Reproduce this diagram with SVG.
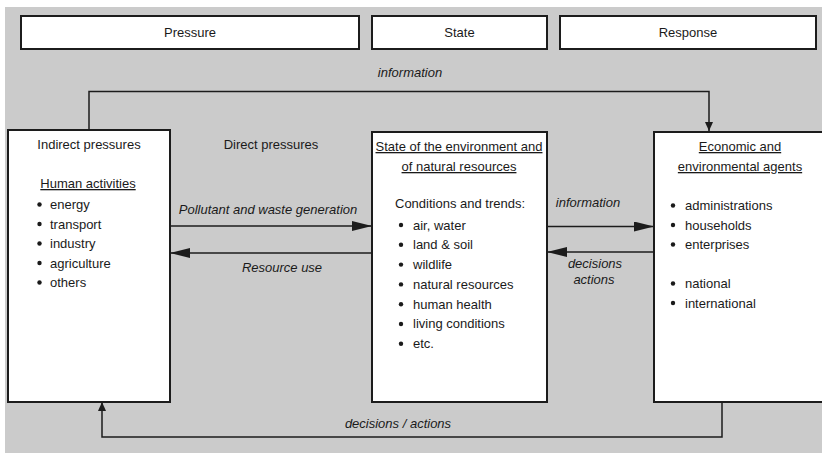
<svg xmlns="http://www.w3.org/2000/svg" width="822" height="453" viewBox="0 0 822 453">
<style>
.bg{fill:#cbcbcb}
.box{fill:#fff;stroke:#1c1c1c;stroke-width:2}
.t{font-family:"Liberation Sans",Arial,sans-serif;font-size:13px;fill:#1a1a1a}
.c{text-anchor:middle}
.i{font-style:italic}
.u{text-decoration:underline}
.conn{fill:none;stroke:#1c1c1c;stroke-width:1.5}
.dot{fill:#1a1a1a}
</style>
<defs>
<marker id="big" markerUnits="userSpaceOnUse" markerWidth="20" markerHeight="10" refX="20" refY="5" orient="auto">
<path d="M0,0 L20,5 L0,10 z" fill="#1c1c1c"/>
</marker>
<marker id="small" markerUnits="userSpaceOnUse" markerWidth="9" markerHeight="8" refX="9" refY="4" orient="auto">
<path d="M0,0 L9,4 L0,8 z" fill="#1c1c1c"/>
</marker>
</defs>
<rect x="0" y="0" width="822" height="453" fill="#fff"/>
<rect class="bg" x="5" y="7" width="817" height="446"/>

<g id="header-pressure">
<rect class="box" x="21" y="16" width="338" height="33"/>
<text class="t c" x="190" y="37">Pressure</text>
</g>
<g id="header-state">
<rect class="box" x="372" y="16" width="175" height="33"/>
<text class="t c" x="459.5" y="37">State</text>
</g>
<g id="header-response">
<rect class="box" x="560" y="16" width="256" height="33"/>
<text class="t c" x="688" y="37">Response</text>
</g>

<g id="connectors">
<polyline class="conn" points="89,129 89,91.5 709,91.5 709,131" marker-end="url(#small)"/>
<text class="t c i" x="410" y="77">information</text>
<line class="conn" x1="170" y1="226" x2="372" y2="226" marker-end="url(#big)"/>
<text class="t c i" x="268" y="214">Pollutant and waste generation</text>
<line class="conn" x1="372" y1="253" x2="170" y2="253" marker-end="url(#big)"/>
<text class="t c i" x="282" y="272">Resource use</text>
<line class="conn" x1="547" y1="226.5" x2="654" y2="226.5" marker-end="url(#big)"/>
<text class="t c i" x="588" y="207">information</text>
<line class="conn" x1="654" y1="252" x2="547" y2="252" marker-end="url(#big)"/>
<text class="t c i" x="595" y="268">decisions</text>
<text class="t c i" x="594" y="284">actions</text>
<polyline class="conn" points="722,402 722,437 102,437 102,402" marker-end="url(#small)"/>
<text class="t c i" x="398" y="428">decisions / actions</text>
</g>

<text class="t c" x="271" y="149">Direct pressures</text>

<g id="node-pressure">
<rect class="box" x="8" y="130" width="162" height="272"/>
<text class="t c" x="89" y="149">Indirect pressures</text>
<text class="t c u" x="88" y="188">Human activities</text>
<circle class="dot" cx="39.5" cy="204.5" r="2.2"/>
<text class="t" x="50" y="209">energy</text>
<circle class="dot" cx="39.5" cy="224" r="2.2"/>
<text class="t" x="50" y="228.5">transport</text>
<circle class="dot" cx="39.5" cy="243.5" r="2.2"/>
<text class="t" x="50" y="248">industry</text>
<circle class="dot" cx="39.5" cy="263" r="2.2"/>
<text class="t" x="50" y="267.5">agriculture</text>
<circle class="dot" cx="39.5" cy="282.5" r="2.2"/>
<text class="t" x="50" y="287">others</text>
</g>

<g id="node-state">
<rect class="box" x="372" y="132" width="175" height="270"/>
<text class="t c u" x="459" y="151">State of the environment and</text>
<text class="t c u" x="459" y="171">of natural resources</text>
<text class="t" x="395" y="208">Conditions and trends:</text>
<circle class="dot" cx="401" cy="225" r="2.2"/>
<text class="t" x="413" y="229.5">air, water</text>
<circle class="dot" cx="401" cy="244.8" r="2.2"/>
<text class="t" x="413" y="249.3">land &amp; soil</text>
<circle class="dot" cx="401" cy="264.6" r="2.2"/>
<text class="t" x="413" y="269">wildlife</text>
<circle class="dot" cx="401" cy="284.4" r="2.2"/>
<text class="t" x="413" y="288.8">natural resources</text>
<circle class="dot" cx="401" cy="304.2" r="2.2"/>
<text class="t" x="413" y="308.6">human health</text>
<circle class="dot" cx="401" cy="324" r="2.2"/>
<text class="t" x="413" y="328.4">living conditions</text>
<circle class="dot" cx="401" cy="343.8" r="2.2"/>
<text class="t" x="413" y="348.2">etc.</text>
</g>

<g id="node-response">
<rect class="box" x="654" y="132" width="180" height="270"/>
<text class="t c u" x="740" y="151">Economic and</text>
<text class="t c u" x="740" y="171">environmental agents</text>
<circle class="dot" cx="673" cy="205.5" r="2.2"/>
<text class="t" x="685" y="210">administrations</text>
<circle class="dot" cx="673" cy="225" r="2.2"/>
<text class="t" x="685" y="229.5">households</text>
<circle class="dot" cx="673" cy="244.5" r="2.2"/>
<text class="t" x="685" y="249">enterprises</text>
<circle class="dot" cx="673" cy="283.5" r="2.2"/>
<text class="t" x="685" y="288">national</text>
<circle class="dot" cx="673" cy="303" r="2.2"/>
<text class="t" x="685" y="307.5">international</text>
</g>
</svg>
